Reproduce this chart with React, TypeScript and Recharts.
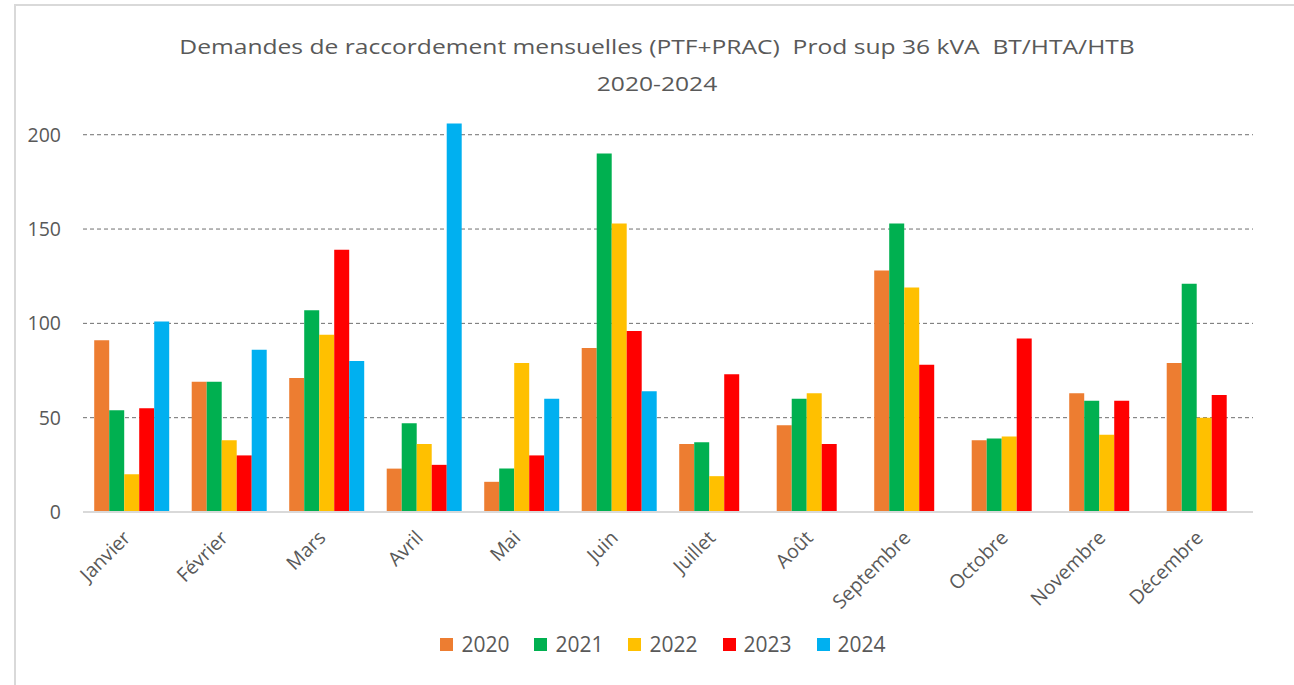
import { BarChart, Bar, XAxis, YAxis, CartesianGrid, Legend } from "recharts"

const months = ["Janvier", "Février", "Mars", "Avril", "Mai", "Juin", "Juillet", "Août", "Septembre", "Octobre", "Novembre", "Décembre"]
const y2020 = [91, 69, 71, 23, 16, 87, 36, 46, 128, 38, 63, 79]
const y2021 = [54, 69, 107, 47, 23, 190, 37, 60, 153, 39, 59, 121]
const y2022 = [20, 38, 94, 36, 79, 153, 19, 63, 119, 40, 41, 50]
const y2023 = [55, 30, 139, 25, 30, 96, 73, 36, 78, 92, 59, 62]
const y2024 = [101, 86, 80, 206, 60, 64, null, null, null, null, null, null]
const yTicks = [0, 50, 100, 150, 200]

const series = [
  { key: "2020", color: "#ED7D31" },
  { key: "2021", color: "#00B050" },
  { key: "2022", color: "#FFC000" },
  { key: "2023", color: "#FF0000" },
  { key: "2024", color: "#00B0F0" },
]

const data = months.map((m, i) => ({
  month: m,
  "2020": y2020[i],
  "2021": y2021[i],
  "2022": y2022[i],
  "2023": y2023[i],
  "2024": y2024[i],
}))

const FONT = "'Open Sans', sans-serif"
const GREY = "#595959"

function MonthTick({ x, y, payload }: any) {
  const tx = x
  const ty = y + 19
  return (
    <text x={tx} y={ty} textAnchor="end" fill={GREY} fontSize={19.5} fontFamily={FONT} transform={`rotate(-45, ${tx}, ${ty})`}>
      {payload.value}
    </text>
  )
}

function LegendBox({ payload }: any) {
  return (
    <div style={{ display: "flex", justifyContent: "center", alignItems: "center", gap: 25, fontFamily: FONT, fontSize: 21, color: GREY, paddingTop: 8, marginLeft: 50 }}>
      {payload.map((p: any) => (
        <div key={p.value} style={{ display: "flex", alignItems: "center" }}>
          <span style={{ width: 13, height: 13, background: p.color, marginRight: 8, display: "inline-block" }} />
          {p.value}
        </div>
      ))}
    </div>
  )
}

export default function App() {
  return (
    <div style={{ position: "absolute", left: 0, top: 0, width: 1294, height: 685, background: "#fff", overflow: "hidden" }}>
      <div style={{ position: "absolute", left: 14, top: 4, right: 0, bottom: 0, borderLeft: "2px solid #d9d9d9", borderTop: "2px solid #d9d9d9" }} />
      <div style={{ position: "absolute", left: 0, width: 1314, top: 28, textAlign: "center", fontFamily: FONT, fontSize: 20, color: GREY, lineHeight: "37px", whiteSpace: "pre", transform: "scaleX(1.23)", transformOrigin: "657px 0" }}>
        {"Demandes de raccordement mensuelles (PTF+PRAC)  Prod sup 36 kVA  BT/HTA/HTB\n2020-2024"}
      </div>
      <div style={{ position: "absolute", left: 0, top: 0 }}>
        <BarChart width={1294} height={685} data={data} margin={{ top: 97, right: 41, left: 23, bottom: 20 }} barGap={0} barCategoryGap="11.5%">
          <CartesianGrid vertical={false} stroke="#6f6f6f" strokeDasharray="4 3" horizontalValues={[50, 100, 150, 200]} />
          <XAxis dataKey="month" tick={<MonthTick />} tickLine={false} axisLine={{ stroke: "#d9d9d9", strokeWidth: 2 }} height={110} interval={0} />
          <YAxis domain={[0, 220]} ticks={yTicks} tickLine={false} axisLine={false} width={60} tickSize={0} tickMargin={22} tick={{ fill: GREY, fontSize: 19.5, fontFamily: FONT }} />
          <Legend verticalAlign="bottom" height={43} content={<LegendBox />} />
          {series.map(s => (
            <Bar key={s.key} dataKey={s.key} fill={s.color} isAnimationActive={false} />
          ))}
        </BarChart>
      </div>
    </div>
  )
}
